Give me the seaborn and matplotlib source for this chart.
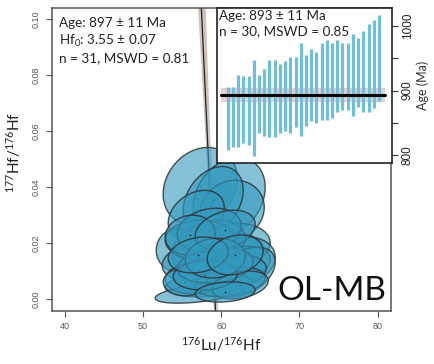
import numpy as np
import matplotlib
matplotlib.use("Agg")
import matplotlib.pyplot as plt
import seaborn as sns
from matplotlib.patches import Polygon

# Lu-Hf isochron: ellipse centres, half extents and error correlations
lu_hf = [57.33, 61.03, 61.42, 58.99, 56.82, 57.97, 54.52, 61.80, 60.14, 62.44,
         59.25, 56.05, 61.16, 57.33, 63.08, 60.01, 58.48, 57.33, 56.69, 61.16,
         55.42, 59.25, 62.44, 57.97, 60.52, 58.48, 56.05, 60.52, 59.25, 57.08, 61.80]
lu_hf_err = [4.73, 4.60, 4.09, 3.83, 3.58, 4.21, 2.81, 4.47, 5.11, 4.47,
             3.83, 3.58, 5.11, 4.47, 3.83, 5.75, 5.62, 5.75, 3.83, 4.47,
             2.81, 4.85, 3.58, 4.09, 3.83, 4.09, 3.19, 3.83, 3.83, 3.83, 3.58]
hf_hf = [0.0403, 0.0364, 0.0318, 0.0353, 0.0300, 0.0179, 0.0175, 0.0193, 0.0158, 0.0133,
         0.0211, 0.0133, 0.0111, 0.0211, 0.0097, 0.0090, 0.0051, 0.0022, 0.0076, 0.0062,
         0.0062, 0.0122, 0.0051, 0.0086, 0.0026, 0.0247, 0.0229, 0.0247, 0.0147, 0.0158, 0.0158]
hf_hf_err = [0.0139, 0.0142, 0.0107, 0.0121, 0.0089, 0.0096, 0.0078, 0.0078, 0.0078, 0.0089,
             0.0071, 0.0064, 0.0078, 0.0071, 0.0089, 0.0071, 0.0043, 0.0036, 0.0057, 0.0053,
             0.0050, 0.0064, 0.0050, 0.0053, 0.0036, 0.0078, 0.0071, 0.0071, 0.0071, 0.0064, 0.0071]
rho = [0.2, 0.25, 0.1, 0.3, 0.3, 0.2, 0.0, 0.1, 0.3, 0.2,
       0.1, 0.2, 0.4, 0.0, 0.4, 0.3, 0.2, 0.5, 0.1, 0.3,
       0.0, 0.2, 0.3, 0.1, 0.2, 0.2, 0.1, 0.3, 0.1, 0.2, 0.2]

iso_age, iso_hf0 = 897, 3.55
lam = 1.867e-5  # 176Lu decay constant (1/Ma)

# weighted mean panel
ages = [857, 859, 868.5, 870, 869.5, 873, 879, 882, 887.5, 887.5,
        887.5, 891.5, 893, 898, 901, 900, 908, 905, 914, 916,
        915, 922, 921.5, 921.5, 924, 928, 930, 935, 941, 950]
age_err = [49, 46, 55.5, 52, 53.5, 75, 45, 52, 59.5, 59.5,
           53.5, 55, 59, 54, 72, 55, 56, 55, 59, 62,
           58, 56, 51.5, 51.5, 63, 53, 63, 68, 68, 67]
mean_age, mean_err = 893, 11

sns.set_theme(style="ticks")
plt.rcParams['font.family'] = ['Lato', 'DejaVu Sans']
plt.rcParams['mathtext.fontset'] = 'custom'
plt.rcParams['mathtext.rm'] = 'Lato'
plt.rcParams['mathtext.it'] = 'Lato'

W, H = 434, 364
fig = plt.figure(figsize=(W / 100, H / 100), dpi=100)
ax = fig.add_axes([52 / W, 1 - 311 / H, (391 - 52) / W, (311 - 8) / H])

# isochron line with envelope
x0 = 1 / (np.exp(lam * iso_age) - 1)
yy = np.linspace(-0.01, 0.11, 50)
xx = x0 * (1 - yy / iso_hf0)
hw = np.sqrt(0.25 ** 2 + (5 * (yy - 0.02)) ** 2)
ax.fill_betweenx(yy, xx - hw, xx + hw, color='#cfc4bd', lw=0, zorder=1)
sns.lineplot(x=xx, y=yy, sort=False, color='#222222', lw=0.9, ax=ax, zorder=1.5)

t = np.linspace(0, 2 * np.pi, 120)
for i in range(len(lu_hf)):
    ex = lu_hf[i] + lu_hf_err[i] * np.cos(t)
    ey = hf_hf[i] + hf_hf_err[i] * (rho[i] * np.cos(t) + np.sqrt(1 - rho[i] ** 2) * np.sin(t))
    ax.add_patch(Polygon(np.column_stack([ex, ey]), closed=True,
                         facecolor=(0.2, 0.6, 0.74, 0.6),
                         edgecolor=(0.18, 0.2, 0.22, 0.85), lw=1.0, zorder=2 + i * 0.01))
    sns.scatterplot(x=[lu_hf[i]], y=[hf_hf[i]], s=1.5, color='#1a2535', linewidth=0,
                    ax=ax, zorder=2.005 + i * 0.01)

ax.set_xlim(38.4, 81.7)
ax.set_ylim(-0.0042, 0.104)
ax.set_xticks([40, 50, 60, 70, 80])
ax.set_yticks([0, 0.02, 0.04, 0.06, 0.08, 0.10])
ax.set_yticklabels(['0.00', '0.02', '0.04', '0.06', '0.08', '0.10'],
                   rotation=90, va='center')
for lab in ax.get_xticklabels() + ax.get_yticklabels():
    lab.set_family('Liberation Sans')
    lab.set_fontsize(6.5)
    lab.set_color('#555555')
ax.tick_params(direction='out', length=4, width=0.8, color='#555555', pad=4)
for s in ax.spines.values():
    s.set_visible(True)
    s.set_color('#555555')
    s.set_linewidth(1.1)
ax.set_xlabel('')
ax.set_ylabel('')

ax.text(0.02, 0.97, 'Age: 897 ± 11 Ma\nHf$_0$: 3.55 ± 0.07\nn = 31, MSWD = 0.81',
        transform=ax.transAxes, ha='left', va='top', fontsize=9.7, linespacing=1.3,
        color='#222222')
ax.text(0.985, 0.015, 'OL-MB', transform=ax.transAxes, ha='right', va='bottom',
        fontsize=24, color='#111111')

fig.text(221 / W, 1 - 345 / H, r'$^{176}$Lu/$^{176}$Hf', ha='center', va='center',
         fontsize=11, color='#222222')
fig.text(14 / W, 1 - 152 / H, r'$^{177}$Hf/$^{176}$Hf', ha='center', va='center',
         fontsize=11, color='#222222', rotation=90)

# inset weighted mean plot
ins = fig.add_axes([217 / W, 1 - 163 / H, (392 - 217) / W, (163 - 8) / H])
ins.set_facecolor('white')
idx = np.arange(1, len(ages) + 1)
ins.fill_between([-0.2, 31.2], mean_age - mean_err, mean_age + mean_err,
                 color='#e6cfcf', lw=0, zorder=1)
lo = np.array(ages) - np.array(age_err)
hi = np.array(ages) + np.array(age_err)
ins.vlines(idx, lo, hi, color='#72bed6', lw=2.3, zorder=2)
sns.lineplot(x=[-0.2, 31.2], y=[mean_age, mean_age], color='black', lw=2.2,
             ax=ins, zorder=3)
ins.set_xlim(-1.05, 32.5)
ins.set_ylim(787.6, 1028)
ins.set_xticks([])
ins.yaxis.tick_right()
ins.yaxis.set_label_position('right')
ins.set_yticks([800, 850, 900, 950, 1000])
ins.set_yticklabels(['800', '', '900', '', '1000'], rotation=90, va='center')
for lab in ins.get_yticklabels():
    lab.set_family('Liberation Sans')
    lab.set_fontsize(8.5)
    lab.set_color('#222222')
ins.tick_params(axis='y', direction='out', length=4, width=0.8, color='#333333', pad=3)
for s in ins.spines.values():
    s.set_visible(True)
    s.set_color('#222222')
    s.set_linewidth(1.2)
ins.set_ylabel('Age (Ma)', fontsize=9, color='#333333', labelpad=2)
ins.text(0.012, 0.985, 'Age: 893 ± 11 Ma\nn = 30, MSWD = 0.85', transform=ins.transAxes,
         ha='left', va='top', fontsize=9.7, linespacing=1.3, color='#222222', zorder=5)

fig.savefig('out.png', dpi=100)
